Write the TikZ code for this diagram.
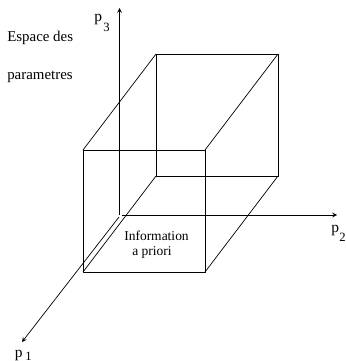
\documentclass[tikz,border=0pt]{standalone}
\usepackage{fontspec}
\setmainfont{Liberation Serif}
\tikzset{
  axis/.style = {->, >=stealth, line width = .5pt},
  edge/.style = {line width = .5pt, line join = round},
  label/.style = {inner sep = 0pt, anchor = base west},
  axislabel/.style = {label, font = \fontsize{11}{13}\selectfont},
  axisindex/.style = {label, font = \fontsize{9}{11}\selectfont},
  boxlabel/.style = {inner sep = 0pt, anchor = base, font = \fontsize{9.6}{12}\selectfont},
  sidelabel/.style = {label, font = \fontsize{10.6}{13}\selectfont}
}
\begin{document}
\begin{tikzpicture}[x = .025cm, y = -.025cm]
      \useasboundingbox (0,0) rectangle (345,361);
      % corners of the box
      \coordinate (fa) at (83,150);
      \coordinate (fb) at (205,150);
      \coordinate (fc) at (205,272);
      \coordinate (fd) at (83,272);
      \coordinate (ba) at (156,54);
      \coordinate (bb) at (278,54);
      \coordinate (bc) at (278,176);
      \coordinate (bd) at (156,176);
      % axes
      \coordinate (o) at (119.5,215);
      \coordinate (o2) at (122,215);
      \coordinate (o1) at (119,217);
      \coordinate (e1) at (22,342);
      \coordinate (e2) at (337,215);
      \coordinate (e3) at (119.5,8);
      \draw [axis] (o) -- (e3);
      \draw [axis] (o2) -- (e2);
      \draw [axis] (o1) -- (e1);
      \draw [edge] (fa) -- (fb) -- (fc) -- (fd) -- cycle;
      \draw [edge] (ba) -- (bb) -- (bc) -- (bd) -- cycle;
      \draw [edge] (fa) -- (ba);
      \draw [edge] (fb) -- (bb);
      \draw [edge] (fc) -- (bc);
      \draw [edge] (fd) -- (bd);
      \node [axislabel] (p3) at (94,22) {p};
      \node [axisindex] (i3) at (103,32) {3};
      \node [axislabel] (p2) at (331,232) {p};
      \node [axisindex] (i2) at (339,241) {2};
      \node [axislabel] (p1) at (14.5,357) {p};
      \node [axisindex] (i1) at (25,360) {1};
      \node [sidelabel] (espace) at (7,42) {Espace des};
      \node [sidelabel] (param) at (7,79) {parametres};
      \node [boxlabel] (info) at (156.5,240) {Information};
      \node [boxlabel] (priori) at (152,255) {a priori};
    \end{tikzpicture}
\end{document}
